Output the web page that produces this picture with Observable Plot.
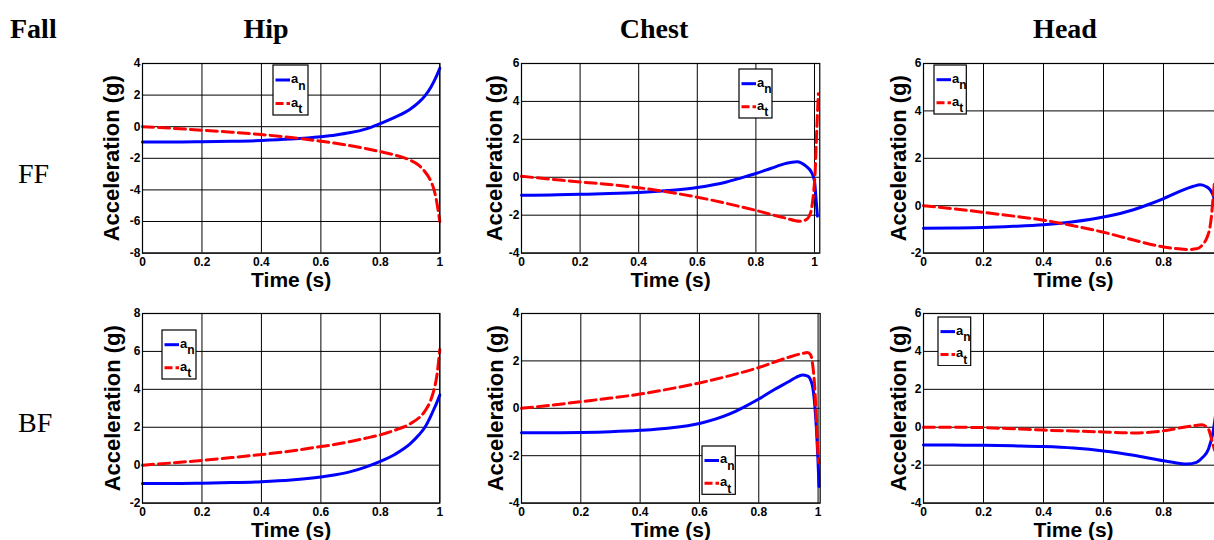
<!DOCTYPE html>
<html><head><meta charset="utf-8">
<script src="https://cdn.jsdelivr.net/npm/d3@7"></script>
<script src="https://cdn.jsdelivr.net/npm/@observablehq/plot@0.6"></script>
<style>
html,body{margin:0;padding:0;background:#fff;}
#root{position:relative;width:1214px;height:540px;overflow:hidden;background:#fff;}
#root > svg, #root > figure{position:absolute;margin:0;}
</style></head><body><div id="root"></div>
<script>
// ---------- data ----------
const xTicks = [0, 0.2, 0.4, 0.6, 0.8, 1];
const headXTicks = [0, 0.2, 0.4, 0.6, 0.8];
const colHeads = ["Hip", "Chest", "Head"];
const rowHeads = ["FF", "BF"];
const cornerHead = "Fall";
const yLabel = "Acceleration (g)";
const xLabel = "Time (s)";

// Hip, FF
const hipFF_t  = [0, 0.1, 0.2, 0.3, 0.4, 0.5, 0.6, 0.65, 0.7, 0.75, 0.8, 0.85, 0.9, 0.93, 0.95, 0.97, 0.98, 0.99, 1.0];
const hipFF_an = [-0.97, -0.97, -0.95, -0.92, -0.87, -0.78, -0.63, -0.52, -0.37, -0.15, 0.2, 0.6, 1.1, 1.55, 1.95, 2.5, 2.85, 3.25, 3.7];
const hipFF_at = [0, -0.1, -0.22, -0.35, -0.5, -0.68, -0.92, -1.05, -1.2, -1.38, -1.58, -1.8, -2.12, -2.45, -2.85, -3.45, -3.95, -4.8, -6.0];
const hipFF_yTicks = [-8, -6, -4, -2, 0, 2, 4];

// Chest, FF
const chestFF_tn = [0, 0.1, 0.2, 0.3, 0.4, 0.5, 0.6, 0.7, 0.75, 0.8, 0.85, 0.9, 0.94, 0.97, 0.99, 1.0, 1.005, 1.01];
const chestFF_an = [-0.95, -0.93, -0.9, -0.86, -0.8, -0.7, -0.54, -0.25, -0.03, 0.2, 0.46, 0.72, 0.82, 0.6, 0.25, -0.2, -1.1, -2.05];
const chestFF_tt = [0, 0.1, 0.2, 0.3, 0.4, 0.5, 0.6, 0.7, 0.8, 0.9, 0.95, 0.97, 0.98, 0.99, 0.997, 1.002, 1.006, 1.01, 1.013];
const chestFF_at = [0.05, -0.1, -0.25, -0.38, -0.55, -0.78, -1.05, -1.38, -1.75, -2.15, -2.32, -2.25, -2.1, -1.65, -0.8, 0.2, 1.8, 3.3, 4.4];
const chestFF_yTicks = [-4, -2, 0, 2, 4, 6];

// Head, FF
const headFF_tn = [0, 0.1, 0.2, 0.3, 0.4, 0.5, 0.6, 0.7, 0.75, 0.8, 0.85, 0.9, 0.922, 0.94, 0.955, 0.965, 0.975];
const headFF_an = [-0.95, -0.94, -0.92, -0.87, -0.8, -0.68, -0.48, -0.17, 0.05, 0.3, 0.58, 0.82, 0.88, 0.82, 0.68, 0.45, 0.0];
const headFF_tt = [0, 0.1, 0.2, 0.3, 0.4, 0.5, 0.6, 0.7, 0.8, 0.85, 0.88, 0.91, 0.93, 0.945, 0.955, 0.961, 0.965, 0.97];
const headFF_at = [0, -0.13, -0.28, -0.44, -0.61, -0.85, -1.12, -1.45, -1.74, -1.82, -1.85, -1.82, -1.65, -1.34, -0.9, -0.3, 0.3, 1.0];
const headFF_yTicks = [-2, 0, 2, 4, 6];

// Hip, BF
const hipBF_t  = [0, 0.1, 0.2, 0.3, 0.4, 0.5, 0.6, 0.65, 0.7, 0.75, 0.8, 0.85, 0.9, 0.93, 0.95, 0.97, 0.98, 0.99, 1.0];
const hipBF_an = [-0.97, -0.97, -0.95, -0.92, -0.87, -0.78, -0.62, -0.5, -0.34, -0.1, 0.2, 0.58, 1.12, 1.6, 2.0, 2.6, 2.95, 3.3, 3.7];
const hipBF_at = [0, 0.12, 0.25, 0.4, 0.56, 0.75, 0.98, 1.1, 1.25, 1.42, 1.6, 1.85, 2.18, 2.5, 2.85, 3.45, 3.95, 4.7, 6.1];
const hipBF_yTicks = [-2, 0, 2, 4, 6, 8];

// Chest, BF
const chestBF_tn = [0, 0.1, 0.2, 0.3, 0.4, 0.5, 0.6, 0.7, 0.75, 0.8, 0.85, 0.9, 0.925, 0.947, 0.965, 0.98, 0.989, 0.995, 1.0, 1.003];
const chestBF_an = [-1.03, -1.03, -1.02, -0.99, -0.93, -0.83, -0.64, -0.25, 0.05, 0.39, 0.77, 1.12, 1.3, 1.41, 1.36, 1.0, 0.1, -1.0, -2.3, -3.3];
const chestBF_tt = [0, 0.1, 0.2, 0.3, 0.4, 0.5, 0.6, 0.7, 0.8, 0.9, 0.95, 0.964, 0.975, 0.981, 0.988, 0.992, 0.996, 1.0, 1.003];
const chestBF_at = [0, 0.13, 0.28, 0.43, 0.6, 0.82, 1.07, 1.37, 1.72, 2.15, 2.32, 2.35, 2.25, 1.9, 1.0, 0.1, -1.0, -2.0, -2.3];
const chestBF_yTicks = [-4, -2, 0, 2, 4];

// Head, BF
const headBF_tn = [0, 0.1, 0.2, 0.3, 0.4, 0.5, 0.6, 0.7, 0.8, 0.85, 0.878, 0.91, 0.93, 0.95, 0.965, 0.975];
const headBF_an = [-0.93, -0.94, -0.95, -0.98, -1.02, -1.1, -1.25, -1.48, -1.77, -1.9, -1.94, -1.85, -1.6, -1.15, -0.27, 0.8];
const headBF_tt = [0, 0.1, 0.2, 0.3, 0.4, 0.5, 0.6, 0.7, 0.8, 0.85, 0.9, 0.928, 0.95, 0.96, 0.97];
const headBF_at = [0, 0, -0.02, -0.08, -0.15, -0.2, -0.25, -0.3, -0.19, -0.05, 0.08, 0.13, -0.1, -0.62, -1.2];
const headBF_yTicks = [-4, -2, 0, 2, 4, 6];

// ---------- layout ----------
const panels = [
  {tn: hipFF_t, an: hipFF_an, tt: hipFF_t, at: hipFF_at, yTicks: hipFF_yTicks, xT: xTicks,
   x0: 141.7, xUnit: 297.3, xMax: 1, yTop: 62.7, yBot: 252.3, yLabOff: 24, legend: [272.7, 65, 35, 50]},
  {tn: chestFF_tn, an: chestFF_an, tt: chestFF_tt, at: chestFF_at, yTicks: chestFF_yTicks, xT: xTicks,
   x0: 520.7, xUnit: 293, xMax: 1.018, yTop: 62.7, yBot: 252.3, yLabOff: 19, legend: [738.7, 69.3, 33, 49]},
  {tn: headFF_tn, an: headFF_an, tt: headFF_tt, at: headFF_at, yTicks: headFF_yTicks, xT: headXTicks,
   x0: 923.3, xUnit: 300, xMax: 1, yTop: 62.7, yBot: 252.3, yLabOff: 18, legend: [934.3, 65, 32.3, 49]},
  {tn: hipBF_t, an: hipBF_an, tt: hipBF_t, at: hipBF_at, yTicks: hipBF_yTicks, xT: xTicks,
   x0: 141.7, xUnit: 297.3, xMax: 1, yTop: 312.7, yBot: 502.3, yLabOff: 23, legend: [162, 330, 34, 49]},
  {tn: chestBF_tn, an: chestBF_an, tt: chestBF_tt, at: chestBF_at, yTicks: chestBF_yTicks, xT: xTicks,
   x0: 520.7, xUnit: 296.6, xMax: 1.007, yTop: 312.7, yBot: 502.3, yLabOff: 19, legend: [702.3, 446, 33.3, 48.3]},
  {tn: headBF_tn, an: headBF_an, tt: headBF_tt, at: headBF_at, yTicks: headBF_yTicks, xT: headXTicks,
   x0: 923.3, xUnit: 300, xMax: 1, yTop: 312.7, yBot: 502.3, yLabOff: 18, legend: [938.3, 316.7, 32.7, 48.7]}
];

const root = document.getElementById("root");
const SANS = "'Liberation Sans', Arial, Helvetica, sans-serif";
const SERIF = "'Liberation Serif', 'Times New Roman', Times, serif";
const DASH = "11,5";

// headers
const hdr = d3.create("svg").attr("width", 1214).attr("height", 540)
  .style("left", "0px").style("top", "0px");
hdr.append("text").attr("x", 10).attr("y", 38).attr("font-family", SERIF)
  .attr("font-size", 28).attr("font-weight", "bold").text(cornerHead);
[266, 654, 1065].forEach((cx, i) => {
  hdr.append("text").attr("x", cx).attr("y", 38).attr("text-anchor", "middle")
    .attr("font-family", SERIF).attr("font-size", 28).attr("font-weight", "bold").text(colHeads[i]);
});
[182.5, 432].forEach((by, i) => {
  hdr.append("text").attr("x", 18).attr("y", by).attr("font-family", SERIF)
    .attr("font-size", 28).text(rowHeads[i]);
});
root.appendChild(hdr.node());

panels.forEach(p => {
  const ml = 60, mr = 10, mt = 10, mb = 50;
  const fw = p.xUnit * p.xMax, fh = p.yBot - p.yTop;
  const rowsN = p.tn.map((t, i) => ({t, v: p.an[i]}));
  const rowsT = p.tt.map((t, i) => ({t, v: p.at[i]}));
  const svg = Plot.plot({
    width: ml + fw + mr, height: mt + fh + mb,
    marginLeft: ml, marginRight: mr, marginTop: mt, marginBottom: mb,
    style: {fontFamily: SANS, fontWeight: "bold", fontSize: "12px", color: "black", background: "transparent", overflow: "visible"},
    x: {domain: [0, p.xMax], ticks: p.xT, tickSize: 0, tickPadding: 4, tickFormat: d => String(d), label: null},
    y: {domain: [p.yTicks[0], p.yTicks[p.yTicks.length - 1]], ticks: p.yTicks, tickSize: 0, tickPadding: 2, tickFormat: d => String(d), label: null},
    marks: [
      Plot.ruleX(xTicks, {stroke: "black", strokeWidth: 1}),
      Plot.ruleY(p.yTicks, {stroke: "black", strokeWidth: 1}),
      Plot.line(rowsN, {x: "t", y: "v", stroke: "#0000ff", strokeWidth: 3, curve: "monotone-x"}),
      Plot.line(rowsT, {x: "t", y: "v", stroke: "#ff0000", strokeWidth: 3, strokeDasharray: DASH, curve: "monotone-x"}),
      Plot.frame({stroke: "black", strokeWidth: 1.2}),
      Plot.text([yLabel], {frameAnchor: "left", dx: -p.yLabOff, rotate: -90, fontSize: 22, fontWeight: "bold", lineAnchor: "bottom", textAnchor: "middle", fill: "black"}),
      Plot.text([xLabel], {frameAnchor: "bottom", dy: 34, fontSize: 21, fontWeight: "bold", lineAnchor: "bottom", textAnchor: "middle", fill: "black"})
    ]
  });
  svg.style.left = (p.x0 - ml) + "px";
  svg.style.top = (p.yTop - mt) + "px";
  svg.style.position = "absolute";
  root.appendChild(svg);

  // legend
  const [lx, ly, lw, lh] = p.legend;
  const lg = d3.create("svg").attr("width", lw + 2).attr("height", lh + 2)
    .style("left", (lx - 1) + "px").style("top", (ly - 1) + "px").style("position", "absolute");
  lg.append("rect").attr("x", 1).attr("y", 1).attr("width", lw).attr("height", lh)
    .attr("fill", "white").attr("stroke", "black").attr("stroke-width", 1.2);
  const rows = [{c: "#0000ff", d: null, s: "n", y: lh * 0.3}, {c: "#ff0000", d: DASH, s: "t", y: lh * 0.77}];
  rows.forEach(r => {
    const ln = lg.append("line").attr("x1", 3.5).attr("x2", 18).attr("y1", r.y + 1).attr("y2", r.y + 1)
      .attr("stroke", r.c).attr("stroke-width", 3);
    if (r.d) ln.attr("stroke-dasharray", "8,3");
    const t = lg.append("text").attr("x", 19).attr("y", r.y + 4).attr("font-family", SANS)
      .attr("font-weight", "bold").attr("font-size", 13).text("a");
    t.append("tspan").attr("dy", 6.5).attr("font-size", 12).text(r.s);
  });
  root.appendChild(lg.node());
});
</script></body></html>
